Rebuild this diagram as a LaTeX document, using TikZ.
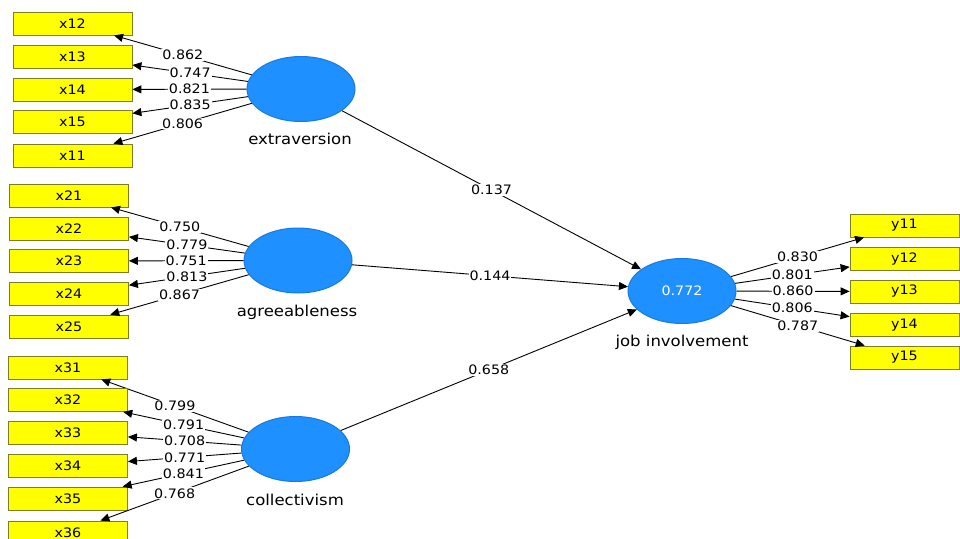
\documentclass[tikz,border=0pt]{standalone}
\usepackage{fontspec}
\setmainfont{DejaVu Sans}[FakeStretch=1.1]
\usetikzlibrary{
  arrows.meta,
  shapes.geometric
}
\definecolor{lvblue}{RGB}{30,144,255}
\definecolor{lvedge}{RGB}{25,122,222}
\definecolor{mvyellow}{RGB}{255,255,0}
\definecolor{mvedge}{RGB}{125,125,40}

\begin{document}
\begin{tikzpicture}[x=1pt, y=-1pt,
  latent/.style={ellipse, fill=lvblue, draw=lvedge, line width=1pt,
    minimum width=108pt, minimum height=65pt, inner sep=0pt},
  manifest/.style={rectangle, fill=mvyellow, draw=mvedge, line width=0.8pt,
    minimum width=119pt, minimum height=23pt, inner sep=0pt,
    font=\fontsize{13}{15}\selectfont},
  lvname/.style={font=\fontsize{15}{17}\selectfont},
  coef/.style={fill=white, inner sep=1pt, font=\fontsize{13}{15}\selectfont},
  link/.style={line width=0.9pt, -{Triangle[length=9pt,width=8pt]}}]
  \useasboundingbox (0,0) rectangle (960,538);
  \clip (0,0) rectangle (960,538);

  % latent variables
  \node[latent] (ext) at (301,89) {};
  \node[lvname] (extname) at (300,139) {extraversion};
  \node[latent] (agr) at (298,260.5) {};
  \node[lvname] (agrname) at (297,312) {agreeableness};
  \node[latent] (col) at (295.5,449) {};
  \node[lvname] (colname) at (295,500) {collectivism};
  \node[latent, text=white, font=\fontsize{13}{15}\selectfont] (job) at (682,291) {0.772};
  \node[lvname] (jobname) at (682,342) {job involvement};

  % indicators and loadings
  \foreach \mv/\ypos/\val in {x12/23.5/0.862, x13/56.5/0.747, x14/89.5/0.821,
      x15/122/0.835, x11/155.5/0.806} {
    \node[manifest] (\mv) at (72.5,\ypos) {\mv};
    \draw[link] (ext) -- node[coef] {\val} (\mv);
  }
  \foreach \mv/\ypos/\val in {x21/195.5/0.750, x22/228.5/0.779, x23/261/0.751,
      x24/294/0.813, x25/326.5/0.867} {
    \node[manifest] (\mv) at (69,\ypos) {\mv};
    \draw[link] (agr) -- node[coef] {\val} (\mv);
  }
  \foreach \mv/\ypos/\val in {x31/367.5/0.799, x32/400/0.791, x33/432.5/0.708,
      x34/466/0.771, x35/498.5/0.841, x36/532.5/0.768} {
    \node[manifest] (\mv) at (68,\ypos) {\mv};
    \draw[link] (col) -- node[coef] {\val} (\mv);
  }
  \foreach \mv/\ypos/\val in {y11/225.5/0.830, y12/259/0.801, y13/291.5/0.860,
      y14/325/0.806, y15/357.5/0.787} {
    \node[manifest, minimum width=109pt] (\mv) at (904.5,\ypos) {\mv};
    \draw[link] (job) -- node[coef] {\val} (\mv);
  }

  % path coefficients
  \draw[link] (ext) -- node[coef] {0.137} (job);
  \draw[link] (agr) -- node[coef] {0.144} (job);
  \draw[link] (col) -- node[coef] {0.658} (job);
\end{tikzpicture}
\end{document}
